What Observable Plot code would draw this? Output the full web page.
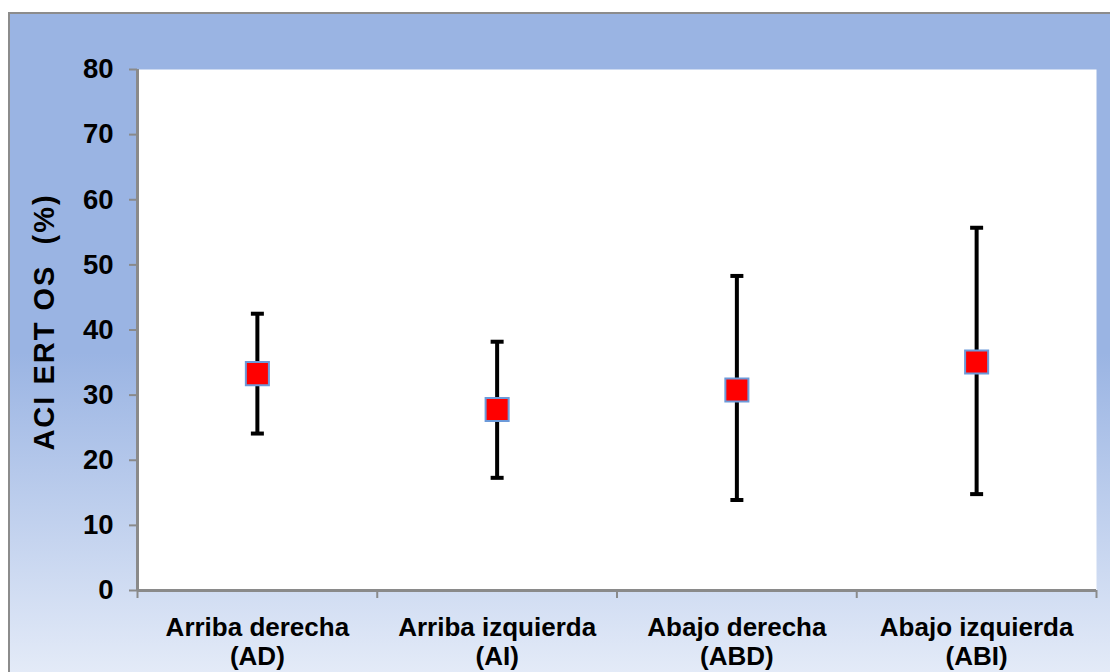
<!DOCTYPE html>
<html>
<head>
<meta charset="utf-8">
<script src="https://cdn.jsdelivr.net/npm/d3@7"></script>
<script src="https://cdn.jsdelivr.net/npm/@observablehq/plot@0.6"></script>
<style>
  html, body { margin: 0; padding: 0; width: 1110px; height: 672px; overflow: hidden; background: #ffffff; }
  #bg {
    position: absolute; left: 8px; top: 12px; width: 1120px; height: 680px;
    border-left: 2px solid #8c8c8c; border-top: 2px solid #8c8c8c;
    box-sizing: border-box;
    background: linear-gradient(to bottom, #9ab4e3 0%, #9ab4e3 50%, #e8eef9 100%);
  }
  #chart { position: absolute; left: 0; top: 0; }
</style>
</head>
<body>
<div id="bg"></div>
<div id="chart"></div>
<script>
const categories = ["Arriba derecha", "Arriba izquierda", "Abajo derecha", "Abajo izquierda"];
const codes = ["(AD)", "(AI)", "(ABD)", "(ABI)"];
const means = [33.3, 27.8, 30.8, 35.1];
const lows = [24.1, 17.3, 13.9, 14.8];
const highs = [42.5, 38.2, 48.3, 55.7];
const yTicks = [0, 10, 20, 30, 40, 50, 60, 70, 80];
const yTitle = "ACI ERT OS  (%)";

const data = categories.map((c, i) => ({
  pos: i + 0.5, label: c, code: codes[i], mean: means[i], lo: lows[i], hi: highs[i]
}));

const capSymbol = {
  draw(context, size) {
    context.moveTo(-6.5, 0);
    context.lineTo(6.5, 0);
  }
};

const chart = Plot.plot({
  width: 1110,
  height: 672,
  marginLeft: 137,
  marginRight: 14,
  marginTop: 69,
  marginBottom: 82,
  style: { fontFamily: "'Liberation Sans', Arial, sans-serif", background: "transparent", color: "#000" },
  x: { type: "linear", domain: [0, 4], axis: null },
  y: { domain: [0, 80], axis: null },
  marks: [
    Plot.frame({ fill: "white", stroke: null }),
    Plot.axisY({
      ticks: yTicks, tickSize: 8, tickPadding: 16, stroke: "#8a8a8a", strokeWidth: 2,
      fontSize: 27.5, fontWeight: "bold", fill: "#000", label: null
    }),
    Plot.axisX({
      ticks: [0, 1, 2, 3, 4], tickSize: 8, stroke: "#8a8a8a", strokeWidth: 2,
      tickFormat: () => "", label: null
    }),
    Plot.ruleX([0], { stroke: "#8a8a8a", strokeWidth: 3 }),
    Plot.ruleY([0], { stroke: "#8a8a8a", strokeWidth: 3 }),
    Plot.ruleX(data, { x: "pos", y1: "lo", y2: "hi", stroke: "#000", strokeWidth: 4 }),
    Plot.dot(data, { x: "pos", y: "hi", symbol: capSymbol, stroke: "#000", strokeWidth: 4, fill: "none", r: 6 }),
    Plot.dot(data, { x: "pos", y: "lo", symbol: capSymbol, stroke: "#000", strokeWidth: 4, fill: "none", r: 6 }),
    Plot.dot(data, { x: "pos", y: "mean", symbol: "square", r: 13, fill: "#ff0000", stroke: "#6c9ad9", strokeWidth: 2 }),
    Plot.text(data, {
      x: "pos", y: () => 0, text: d => d.label + "\n" + d.code,
      lineAnchor: "top", dy: 25, fontSize: 26, fontWeight: "bold", fill: "#000", lineHeight: 1.12
    }),
    Plot.text([yTitle], {
      frameAnchor: "left", textAnchor: "middle", text: d => d, rotate: -90, dx: -93, dy: -8,
      fontSize: 29, fontWeight: "bold", fill: "#000"
    })
  ]
});

chart.querySelectorAll("text").forEach(t => {
  if (t.textContent === yTitle) {
    t.setAttribute("style", "white-space: pre; letter-spacing: 2px;");
  }
});
document.getElementById("chart").appendChild(chart);
</script>
</body>
</html>
